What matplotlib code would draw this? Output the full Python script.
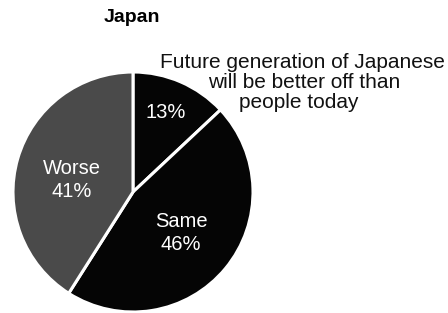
import matplotlib
matplotlib.use("Agg")
import matplotlib.pyplot as plt

labels = ["Better", "Same", "Worse"]
values = [13, 46, 41]
colors = ["#050505", "#050505", "#4a4a4a"]
note_lines = ["Future generation of Japanese", "will be better off than", "people today"]

fig = plt.figure(figsize=(4.48, 3.13), dpi=100)
ax = fig.add_axes([0, 0, 1, 1])

ax.pie(values, colors=colors, startangle=90, counterclock=False,
       center=(133, 121), radius=120, frame=True,
       wedgeprops=dict(edgecolor="white", linewidth=2.2))
ax.set_xlim(0, 448)
ax.set_ylim(0, 313)
ax.set_aspect("equal")
ax.axis("off")

font = "Liberation Sans"
ax.text(132, 296, "Japan", ha="center", va="center", fontsize=14, fontweight="bold", family=font)
for (x, y), line in zip([(302, 251), (304, 231), (299, 210)], note_lines):
    ax.text(x, y, line, ha="center", va="center", fontsize=15, family=font, color="#111111")
ax.text(166, 201, f"{values[0]}%", ha="center", va="center", fontsize=14.5, family=font, color="white")
ax.text(181, 80, f"Same\n{values[1]}%", ha="center", va="center", fontsize=14.5, family=font, color="white", linespacing=1.3)
ax.text(72, 133, f"Worse\n{values[2]}%", ha="center", va="center", fontsize=14.5, family=font, color="white", linespacing=1.3)

fig.savefig("out.png", dpi=100)
